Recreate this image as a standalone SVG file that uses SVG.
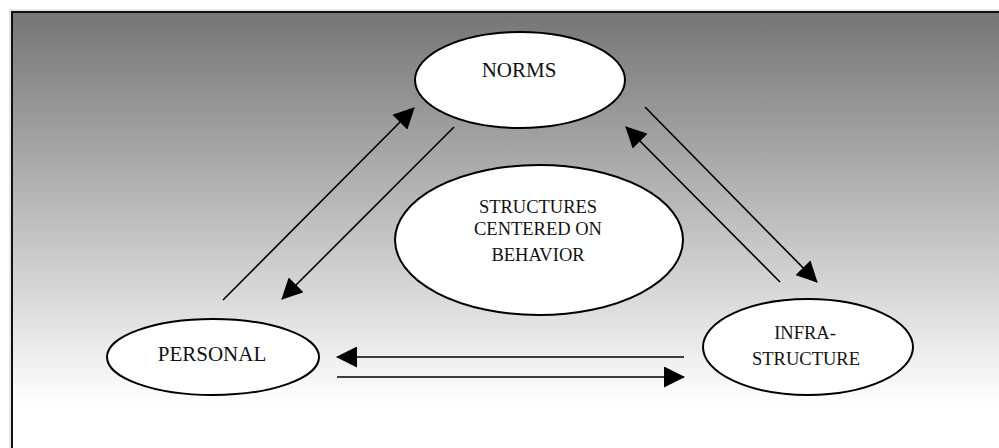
<svg xmlns="http://www.w3.org/2000/svg" width="999" height="448" viewBox="0 0 999 448">
<defs>
<linearGradient id="bg" x1="0" y1="12" x2="0" y2="448" gradientUnits="userSpaceOnUse">
<stop offset="0" stop-color="#757575"/>
<stop offset="0.9" stop-color="#ffffff"/>
<stop offset="1" stop-color="#ffffff"/>
</linearGradient>
<marker id="ah" markerUnits="userSpaceOnUse" markerWidth="21" markerHeight="21" refX="20" refY="10.5" orient="auto" viewBox="0 0 21 21">
<path d="M0,0 L21,10.5 L0,21 z" fill="#000"/>
</marker>
<style>
.node ellipse { fill: #fff; stroke: #000; stroke-width: 2; }
.node text { font-family: "Liberation Serif", "Times New Roman", serif; fill: #111; text-anchor: middle; }
#connectors line { stroke: #000; stroke-width: 1.6; }
.arr { marker-end: url(#ah); }
</style>
</defs>
<rect x="0" y="0" width="999" height="448" fill="#fff"/>
<rect x="10" y="10" width="1000" height="450" fill="none" stroke="#d0d0d0" stroke-width="1"/>
<rect x="12" y="12" width="1000" height="450" fill="url(#bg)" stroke="#111" stroke-width="2"/>

<g id="connectors">
<line class="arr" x1="223" y1="300" x2="414" y2="108"/>
<line class="arr" x1="454" y1="127" x2="282" y2="299"/>
<line class="arr" x1="645" y1="107" x2="817" y2="282"/>
<line class="arr" x1="780" y1="282" x2="626" y2="127"/>
<line class="arr" x1="684" y1="357" x2="337" y2="357"/>
<line class="arr" x1="337" y1="377" x2="684" y2="377"/>
</g>

<g id="norms" class="node">
<ellipse cx="520" cy="80" rx="105" ry="48"/>
<text x="519" y="77" font-size="21">NORMS</text>
</g>

<g id="structures" class="node">
<ellipse cx="539" cy="240" rx="144" ry="75"/>
<text x="538" y="213" font-size="18.5">STRUCTURES</text>
<text x="538" y="235" font-size="18.5">CENTERED ON</text>
<text x="538" y="261" font-size="18.5">BEHAVIOR</text>
</g>

<g id="personal" class="node">
<ellipse cx="213" cy="357" rx="106" ry="38"/>
<text x="212" y="361" font-size="21">PERSONAL</text>
</g>

<g id="infrastructure" class="node">
<ellipse cx="808" cy="347" rx="105" ry="48"/>
<text x="805" y="339" font-size="18.5">INFRA-</text>
<text x="806" y="365" font-size="18.5">STRUCTURE</text>
</g>
</svg>
